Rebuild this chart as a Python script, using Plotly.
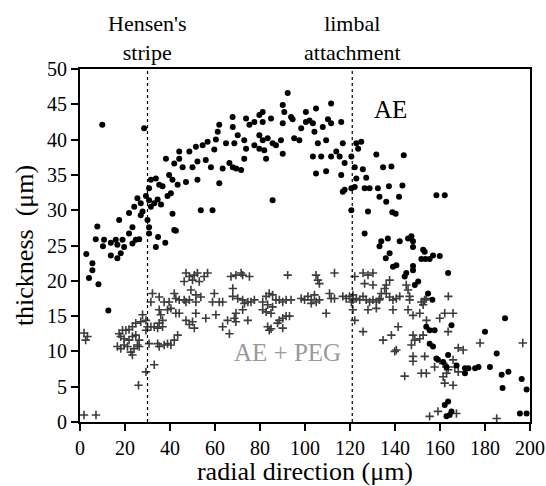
import plotly.graph_objects as go

# AE (filled dots)
ae_x = [2.8,5.5,5.5,4.0,8.2,12.6,7.0,10.7,10.2,13.7,15.9,16.6,18.9,19.6,21.8,23.3,24.8,26.3,18.1,16.6,13.7,30.7,34.7,33.7,37.9,42.6,
        9.9,28.5,
        7.7,17.4,23.3,21.8,24.1,25.5,27.0,27.0,27.8,29.3,30.7,31.5,33.7,30.7,31.5,33.0,34.5,36.0,35.2,36.7,38.9,40.4,39.6,38.2,41.1,43.4,41.9,44.1,45.6,44.1,47.1,48.6,50.0,51.5,52.2,52.2,54.5,55.9,56.7,58.2,59.7,60.4,61.9,61.2,61.9,63.4,64.9,53.7,58.9,41.9,41.1,30.0,30.7,
        92.3,67.8,67.9,68.6,70.1,73.0,73.8,75.3,77.5,79.7,81.2,81.2,84.9,79.7,81.2,83.4,77.5,79.7,81.9,73.8,73.0,82.7,85.6,87.1,89.3,90.1,90.1,90.8,90.1,93.8,94.5,95.2,97.5,98.3,100.4,100.4,102.0,103.5,104.9,104.2,105.7,107.9,109.4,110.2,111.6,116.1,111.6,116.8,103.5,107.2,111.6,113.9,115.4,117.6,104.9,109.4,116.1,117.6,116.8,85.6,66.4,67.9,69.4,71.6,
        122.8,125.0,123.6,120.6,122.1,122.8,122.1,120.6,125.7,127.2,126.5,128.7,131.7,132.4,133.1,134.7,136.1,120.6,128.0,126.5,133.9,133.1,136.8,
        143.9,138.4,137.3,143.3,141.8,138.8,140.3,158.4,162.1,142.1,147.3,148.0,148.0,152.5,
        145.8,153.2,151.7,153.5,155.4,156.9,159.9,137.6,135.9,139.1,140.6,148.0,148.0,145.0,144.3,163.6,150.3,148.8,154.7,156.6,153.9,155.4,157.6,165.1,155.4,156.9,158.4,159.1,163.6,161.4,162.9,167.4,171.1,172.6,175.6,177.1,171.1,180.0,182.2,185.2,188.9,187.4,190.4,187.8,196.3,198.5,195.5,198.5,163.6,162.1,165.1,164.3,162.9]
ae_y = [23.8,22.5,21.5,20.4,19.5,15.8,25.9,25.8,24.9,25.4,25.8,25.1,25.8,24.8,26.7,25.3,25.8,25.9,23.9,23.2,23.6,26.7,26.2,24.8,25.4,27.1,
        42.1,41.6,
        27.7,28.6,27.6,29.6,30.5,31.7,31.0,29.3,29.8,32.0,33.1,34.3,34.5,31.4,30.5,31.0,31.5,30.8,33.6,33.4,32.0,32.4,35.0,37.3,34.3,33.6,36.6,37.3,36.1,38.3,34.0,38.3,36.1,39.0,36.9,34.3,39.2,37.1,39.7,36.1,38.6,40.0,42.1,41.1,33.8,35.9,39.5,30.0,30.0,27.2,29.5,28.6,27.6,
        46.6,43.2,41.8,39.5,40.6,39.9,43.0,42.1,42.5,43.5,43.9,42.5,43.0,40.6,39.9,40.2,39.2,38.7,38.5,38.7,37.3,37.3,39.5,39.2,39.9,38.0,42.3,43.9,44.9,43.2,42.9,40.2,39.9,41.6,43.9,42.5,42.7,42.3,44.4,41.1,39.5,41.8,39.9,42.9,45.1,42.5,42.3,39.5,37.6,37.6,37.6,38.3,37.6,36.7,35.2,35.5,35.0,32.9,32.6,31.4,36.7,36.1,35.9,35.7,
        39.5,39.7,38.7,37.6,36.1,34.5,33.3,33.1,35.8,34.6,33.1,33.1,37.9,33.1,31.9,36.1,31.2,30.0,29.8,26.7,25.6,24.9,26.0,
        37.8,36.2,33.4,33.5,31.9,29.7,29.5,32.1,32.1,25.6,26.3,25.6,24.8,24.4,
        26.0,24.1,23.1,23.1,23.1,23.6,23.5,23.9,23.2,22.0,22.2,22.1,21.5,21.1,20.6,21.1,19.9,19.4,18.2,17.3,13.5,13.0,13.0,13.7,11.1,10.7,9.0,8.8,9.5,8.5,7.8,8.0,7.6,7.6,7.6,7.8,6.9,12.8,7.8,9.7,14.7,6.7,7.1,4.8,6.1,4.6,1.2,1.2,2.9,2.4,1.5,1.0,0.8]

# AE + PEG (crosses)
peg_x = [1.8,3.3,2.5,1.8,7.1,
         47.1,48.6,50.8,52.2,50.0,46.3,56.7,55.2,53.0,
         32.2,31.5,35.2,37.4,39.6,41.9,42.6,44.1,46.3,47.1,48.6,51.5,49.3,51.5,53.7,59.7,61.9,58.9,63.4,
         27.8,27.0,29.3,30.0,31.5,33.0,29.3,35.2,35.9,36.7,35.2,38.9,40.4,36.7,34.5,
         42.6,44.1,47.1,50.0,51.5,50.8,48.6,55.9,60.4,65.6,63.4,66.4,
         24.8,23.3,21.8,20.4,18.9,17.4,18.1,19.6,21.8,23.3,24.8,26.3,25.5,24.0,22.6,21.1,19.6,18.1,16.6,26.3,23.3,
         34.5,35.2,37.4,38.9,40.4,41.9,43.4,33.0,29.3,26.0,30.7,
         67.1,69.3,71.6,72.3,75.3,92.3,104.9,105.7,106.4,113.1,122.1,125.8,128.0,130.2,126.5,130.2,
         67.9,67.9,70.1,72.3,73.1,74.6,76.0,77.5,72.3,69.3,68.6,69.3,74.6,
         81.2,82.7,84.1,85.6,87.1,88.6,90.1,91.6,93.8,83.4,85.6,81.2,82.7,84.9,
         88.6,90.1,91.6,93.1,87.8,90.1,84.1,84.9,83.4,
         98.3,99.8,101.3,102.8,104.2,105.0,106.4,102.8,109.4,110.9,111.6,113.1,
         116.8,118.3,119.8,121.3,122.8,124.3,125.8,127.2,128.7,130.2,131.7,133.0,121.3,120.6,
         121.3,122.1,128.0,131.7,125.8,
         137.6,136.1,135.4,136.1,137.6,139.1,140.6,142.1,145.0,145.8,146.5,146.5,133.2,133.9,
         139.1,145.8,148.0,151.0,151.7,153.2,153.9,152.5,163.7,
         159.9,162.1,165.8,154.0,141.4,138.4,134.7,
         148.0,148.8,147.3,151.0,152.5,140.6,139.9,148.0,148.0,153.2,
         163.6,168.1,170.3,157.6,161.4,162.9,163.6,162.9,161.4,165.8,166.6,168.1,
         144.3,151.7,153.9,162.1,165.8,155.4,159.1,167.3,185.2,177.8,196.8]
peg_y = [12.6,12.1,11.6,1.0,1.0,
         21.1,20.6,20.8,21.1,20.1,19.9,21.1,20.6,19.9,
         18.2,17.0,17.7,17.0,17.0,18.2,17.5,17.3,17.3,17.0,17.3,17.0,18.7,18.0,17.7,18.2,17.0,17.0,17.0,
         15.2,14.2,14.4,13.5,13.5,13.5,13.0,15.9,15.2,14.4,14.0,15.9,16.1,13.5,13.3,
         15.4,15.4,14.4,14.2,15.4,13.3,13.8,14.7,15.2,14.4,13.5,12.5,
         14.0,13.5,13.1,13.0,13.0,12.5,12.1,11.8,11.6,12.1,12.3,11.6,10.9,10.4,9.9,10.7,10.9,10.4,10.7,10.7,9.5,
         11.1,10.7,10.9,11.1,10.9,11.6,12.3,8.1,7.1,5.2,11.1,
         20.6,20.8,21.1,20.8,20.6,20.8,20.8,20.1,19.6,21.1,20.6,21.1,20.8,21.1,19.6,19.4,
         18.9,17.8,17.5,17.3,16.8,17.0,17.0,17.3,15.9,15.4,14.7,14.2,14.4,
         17.0,17.8,18.2,18.0,17.3,17.3,17.0,17.3,17.3,16.6,16.3,15.9,15.6,15.4,
         14.4,14.7,15.0,15.0,14.0,13.3,13.0,13.2,13.5,
         17.5,17.3,17.8,17.3,18.0,17.0,17.3,16.8,15.4,18.2,17.5,17.5,
         17.8,17.5,17.8,17.3,17.5,17.3,17.8,17.3,17.0,17.3,17.0,17.3,18.0,17.0,
         15.9,14.4,15.9,16.1,12.8,
         20.1,19.4,18.9,18.2,17.7,17.3,17.5,17.8,19.4,18.7,17.8,17.3,17.5,18.2,
         15.9,15.9,15.1,15.4,17.0,17.3,17.5,16.6,17.8,
         14.7,15.4,15.4,14.4,13.5,12.3,11.6,
         12.3,11.6,10.9,11.8,12.3,10.2,10.0,9.3,8.6,9.3,
         12.8,10.5,10.2,7.8,8.3,7.8,7.4,6.9,6.4,8.8,7.8,7.1,
         6.5,6.9,6.9,5.5,5.2,0.8,1.5,1.2,0.5,11.2,11.2]

x_ticks = [0, 20, 40, 60, 80, 100, 120, 140, 160, 180, 200]
y_ticks = [0, 5, 10, 15, 20, 25, 30, 35, 40, 45, 50]
marker_lines_x = [30, 121]

FONT = "Liberation Serif"

fig = go.Figure()
fig.add_trace(go.Scatter(x=peg_x, y=peg_y, mode="markers", name="AE + PEG",
                         marker=dict(symbol="cross-thin", size=6, color="#3c3c3c",
                                     line=dict(color="#3c3c3c", width=1.6)),
                         cliponaxis=False))
fig.add_trace(go.Scatter(x=ae_x, y=ae_y, mode="markers", name="AE",
                         marker=dict(symbol="circle", size=6, color="black"),
                         cliponaxis=False))

for xv in marker_lines_x:
    fig.add_shape(type="line", x0=xv, x1=xv, y0=0, y1=50, xref="x", yref="y",
                  line=dict(color="black", width=1.2, dash="dot"))

fig.add_annotation(x=30, y=1.0, xref="x", yref="paper", text="Hensen's<br>stripe", showarrow=False,
                   font=dict(family=FONT, size=22, color="black"), yanchor="bottom", yshift=2)
fig.add_annotation(x=121, y=1.0, xref="x", yref="paper", text="limbal<br>attachment", showarrow=False,
                   font=dict(family=FONT, size=22, color="black"), yanchor="bottom", yshift=2)
fig.add_annotation(x=138, y=44.3, xref="x", yref="y", text="AE", showarrow=False,
                   font=dict(family=FONT, size=25, color="black"))
fig.add_annotation(x=92, y=9.8, xref="x", yref="y", text="AE + PEG", showarrow=False,
                   font=dict(family=FONT, size=25, color="#9a9a9a"))

axis_common = dict(showline=True, linecolor="black", linewidth=1.8, mirror=True,
                   ticks="outside", ticklen=7, tickwidth=1.5, tickcolor="black",
                   showgrid=False, zeroline=False, automargin=False,
                   tickfont=dict(family=FONT, size=20, color="black"))

fig.update_layout(
    width=546, height=486,
    margin=dict(l=80, r=16, t=69, b=64),
    paper_bgcolor="white", plot_bgcolor="white",
    showlegend=False,
    xaxis=dict(range=[0, 200], tickvals=x_ticks,
               title=dict(text="radial direction (μm)", font=dict(family=FONT, size=26, color="black"), standoff=8),
               **axis_common),
    yaxis=dict(range=[0, 50], tickvals=y_ticks,
               title=dict(text="thickness  (μm)", font=dict(family=FONT, size=26, color="black"), standoff=6),
               **axis_common),
)

fig.write_html("out.html")
